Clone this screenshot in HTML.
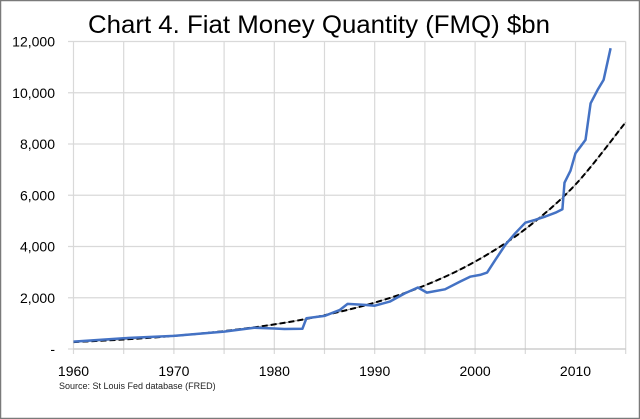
<!DOCTYPE html>
<html><head><meta charset="utf-8"><style>
html,body{margin:0;padding:0;background:#fff;}
svg{display:block;font-family:"Liberation Sans",sans-serif;}
</style></head><body>
<svg width="640" height="419" viewBox="0 0 640 419">
<rect x="0.5" y="0.5" width="639" height="418" fill="#fff" stroke="#7a7a7a" stroke-width="1.5"/>
<text x="88" y="33" font-size="25" textLength="462" lengthAdjust="spacingAndGlyphs" fill="#000">Chart 4. Fiat Money Quantity (FMQ)  $bn</text>
<g id="grid"></g>
<g id="yaxis"></g>
<g id="xaxis"></g>
<path id="trend-under" fill="none" stroke="#9a9a9a" stroke-width="1"/>
<path id="trend" fill="none" stroke="#000" stroke-width="2" stroke-dasharray="6,3"/>
<path id="fmq" fill="none" stroke="#4472c4" stroke-width="2.5" stroke-linejoin="round"/>
<text x="59" y="389" font-size="9" fill="#222">Source: St Louis Fed  database (FRED)</text>
</svg>
<script>
const yTicks=[0,2000,4000,6000,8000,10000,12000];
const yTickLabels=["-","2,000","4,000","6,000","8,000","10,000","12,000"];
const xTicks=[1960,1970,1980,1990,2000,2010];
const fmqYears=[1960,1965,1970,1975,1978,1980,1981,1982.8,1983.2,1985,1986.5,1987.3,1989,1990,1991.5,1993,1994.3,1995.2,1997,1998.5,1999.5,2000.5,2001.2,2002,2003,2004,2005,2006,2007,2008,2008.7,2008.9,2009.5,2010,2010.5,2011,2011.5,2012.2,2012.8,2013.5];
const fmqValues=[290,420,510,680,830,800,780,790,1200,1290,1520,1760,1720,1690,1850,2170,2400,2200,2330,2630,2820,2890,2980,3470,4060,4520,4930,5040,5170,5320,5450,6490,6960,7640,7900,8160,9590,10110,10500,11740];
const trendYears=[1960,1965,1970,1975,1980,1985,1990,1995,2000,2005,2010,2015];
const trendValues=[270,370,510,700,960,1320,1810,2480,3410,4680,6420,8850];
const X=y=>73.5+(y-1960)*10.04;
const Y=v=>349-v*(307.5/12000);
const NS="http://www.w3.org/2000/svg";
function mk(tag,attrs,parent){const e=document.createElementNS(NS,tag);for(const k in attrs)e.setAttribute(k,attrs[k]);parent.appendChild(e);return e;}
const grid=document.getElementById('grid'),ya=document.getElementById('yaxis'),xa=document.getElementById('xaxis');
yTicks.forEach((v,i)=>{
 const l=mk('line',{x1:68,x2:X(2015),y1:Y(v),y2:Y(v),stroke:'#d9d9d9','stroke-width':1.2},grid);
 
 
 const t=mk('text',{x:55,y:Y(v)+5,'text-anchor':'end','font-size':14,fill:'#000'},ya);
 t.textContent=yTickLabels[i];
 
 
});
for(let yr=1960;yr<=2015;yr+=5){
 const l=mk('line',{x1:X(yr),x2:X(yr),y1:Y(12000),y2:Y(0)+5,stroke:'#d9d9d9','stroke-width':1.2},grid);
 
 
}
const ax=mk('line',{x1:X(1960),x2:X(2015),y1:Y(0),y2:Y(0),stroke:'#bfbfbf','stroke-width':1},grid);


xTicks.forEach(yr=>{
 const t=mk('text',{x:X(yr),y:376,'text-anchor':'middle','font-size':14,fill:'#000'},xa);
 t.textContent=String(yr);
 
 
});
document.getElementById('fmq').setAttribute('d',fmqYears.map((y,i)=>(i?'L':'M')+X(y).toFixed(1)+','+Y(fmqValues[i]).toFixed(1)).join(''));
// smooth trend through read points (Catmull-Rom)
const P=trendYears.map((y,i)=>[X(y),Y(trendValues[i])]);
let d='M'+P[0][0]+','+P[0][1];
for(let i=0;i<P.length-1;i++){
 const p0=P[Math.max(0,i-1)],p1=P[i],p2=P[i+1],p3=P[Math.min(P.length-1,i+2)];
 d+='C'+(p1[0]+(p2[0]-p0[0])/6).toFixed(1)+','+(p1[1]+(p2[1]-p0[1])/6).toFixed(1)+' '+(p2[0]-(p3[0]-p1[0])/6).toFixed(1)+','+(p2[1]-(p3[1]-p1[1])/6).toFixed(1)+' '+p2[0].toFixed(1)+','+p2[1].toFixed(1);
}
document.getElementById('trend').setAttribute('d',d);
document.getElementById('trend-under').setAttribute('d',d);
</script>
</body></html>
